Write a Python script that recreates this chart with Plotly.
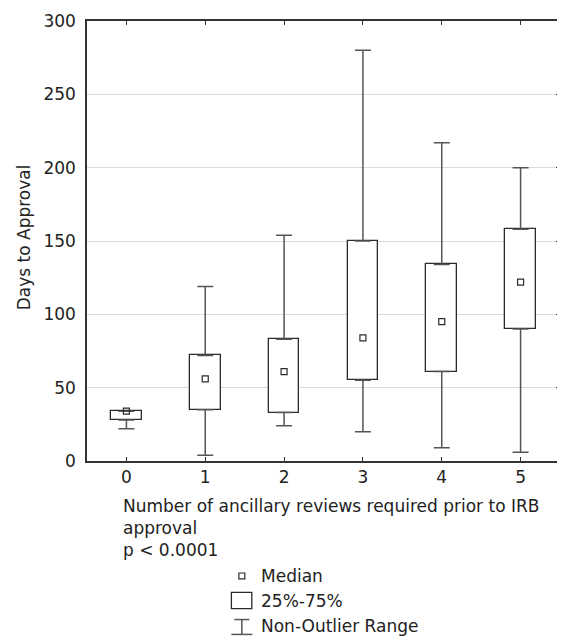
import plotly.graph_objects as go

# ---- data ----
categories = [0, 1, 2, 3, 4, 5]
tick_labels = ["0", "1", "2", "3", "4", "5"]
medians = [34, 56, 61, 84, 95, 122]
q1_values = [28, 35, 33, 55, 61, 90]
q3_values = [34, 72, 83, 150, 134, 158]
whisker_low = [22, 4, 24, 20, 9, 6]
whisker_high = [34, 119, 154, 280, 217, 200]
y_ticks = [0, 50, 100, 150, 200, 250, 300]

FONT = "DejaVu Sans"
FS = 17
BOX_COLOR = "#2b2b2b"
WHISK_COLOR = "#555555"

# the page body adds an 8px offset; size the figure so it fits the window
OFF = 8
W, H = 565 - OFF, 640 - OFF
ML, MR, MT, MB = 87 - OFF, 3, 17 - OFF, 179
PW, PH = W - ML - MR, H - MT - MB


def px(x):
    """reference-window pixel x -> paper x"""
    return (x - OFF - ML) / PW


def py(y):
    """reference-window pixel y -> paper y"""
    return (H - MB - (y - OFF)) / PH


fig = go.Figure()

# upper whiskers (from Q3 up to the non-outlier maximum)
fig.add_trace(go.Scatter(
    x=categories, y=q3_values, mode="markers",
    marker=dict(opacity=0, size=1),
    error_y=dict(type="data", symmetric=False,
                 array=[h - q for h, q in zip(whisker_high, q3_values)],
                 arrayminus=[0] * len(categories),
                 color=WHISK_COLOR, thickness=1.5, width=8),
    showlegend=False, hoverinfo="skip"))

# lower whiskers (from Q1 down to the non-outlier minimum)
fig.add_trace(go.Scatter(
    x=categories, y=q1_values, mode="markers",
    marker=dict(opacity=0, size=1),
    error_y=dict(type="data", symmetric=False,
                 array=[0] * len(categories),
                 arrayminus=[q - l for q, l in zip(q1_values, whisker_low)],
                 color=WHISK_COLOR, thickness=1.5, width=8),
    showlegend=False, hoverinfo="skip"))

# 25%-75% boxes
fig.add_trace(go.Bar(
    x=categories, base=q1_values,
    y=[b - a for a, b in zip(q1_values, q3_values)],
    width=0.39,
    marker=dict(color="white", line=dict(color=BOX_COLOR, width=1.3)),
    showlegend=False, hoverinfo="skip"))

# medians
fig.add_trace(go.Scatter(
    x=categories, y=medians, mode="markers",
    marker=dict(symbol="square-open", size=6, color=BOX_COLOR,
                line=dict(width=1.2, color=BOX_COLOR)),
    showlegend=False, hoverinfo="skip"))

# dummy trace for right-side ticks
fig.add_trace(go.Scatter(x=[None], y=[None], yaxis="y2", showlegend=False,
                         hoverinfo="skip"))

fig.update_layout(
    width=W, height=H,
    margin=dict(l=ML, r=MR, t=MT, b=MB),
    paper_bgcolor="white", plot_bgcolor="white",
    font=dict(family=FONT, size=FS, color="#222222"),
    showlegend=False,
    bargap=0,
    xaxis=dict(range=[-0.5, 5.5], tickvals=categories, ticktext=tick_labels,
               ticks="inside", ticklen=4, tickcolor="#333333",
               showline=True, linecolor="#333333", linewidth=1.5,
               mirror="ticks", showgrid=False, zeroline=False,
               tickfont=dict(family=FONT, size=FS, color="#222222")),
    yaxis=dict(range=[0, 300], tickvals=y_ticks, ticks="",
               showline=True, linecolor="#333333", linewidth=1.5,
               mirror=True, showgrid=True, gridcolor="#dadada", gridwidth=1,
               zeroline=False, ticklabelstandoff=6,
               ticklabeloverflow="allow",
               tickfont=dict(family=FONT, size=FS, color="#222222")),
    yaxis2=dict(range=[0, 300], tickvals=y_ticks, overlaying="y",
                side="right", ticks="inside", ticklen=4, tickcolor="#333333",
                showticklabels=False, showgrid=False, zeroline=False,
                showline=False),
)

annotations = []
# y-axis title
annotations.append(dict(
    text="Days to Approval", xref="paper", yref="paper",
    x=px(24), y=py(235), xanchor="center", yanchor="middle",
    textangle=-90, showarrow=False, font=dict(family=FONT, size=FS)))
# x-axis title (multi-line, left aligned)
annotations.append(dict(
    text="Number of ancillary reviews required prior to IRB<br>approval<br>p &lt; 0.0001",
    xref="paper", yref="paper", x=px(121), y=py(529),
    xanchor="left", yanchor="middle", align="left",
    showarrow=False, font=dict(family=FONT, size=FS)))

# custom legend
legend_items = ["Median", "25%-75%", "Non-Outlier Range"]
legend_y = [577, 602, 627]
for label, ly in zip(legend_items, legend_y):
    annotations.append(dict(
        text=label, xref="paper", yref="paper", x=px(261), y=py(ly),
        xanchor="left", yanchor="middle", showarrow=False, borderpad=0,
        font=dict(family=FONT, size=FS)))

shapes = []
# median glyph
shapes.append(dict(type="rect", xref="paper", yref="paper",
                   x0=px(239.5), x1=px(245.5), y0=py(580), y1=py(574),
                   line=dict(color=BOX_COLOR, width=1.2), fillcolor="white"))
# box glyph
shapes.append(dict(type="rect", xref="paper", yref="paper",
                   x0=px(232), x1=px(252.5), y0=py(610), y1=py(593.5),
                   line=dict(color=BOX_COLOR, width=1.3), fillcolor="white"))
# whisker glyph
shapes.append(dict(type="line", xref="paper", yref="paper",
                   x0=px(242.5), x1=px(242.5), y0=py(636), y1=py(621),
                   line=dict(color=WHISK_COLOR, width=1.5)))
shapes.append(dict(type="line", xref="paper", yref="paper",
                   x0=px(235), x1=px(250), y0=py(621), y1=py(621),
                   line=dict(color=WHISK_COLOR, width=1.5)))
shapes.append(dict(type="line", xref="paper", yref="paper",
                   x0=px(232), x1=px(253), y0=py(636), y1=py(636),
                   line=dict(color=WHISK_COLOR, width=1.5)))

fig.update_layout(annotations=annotations, shapes=shapes)

fig.write_html("out.html")
